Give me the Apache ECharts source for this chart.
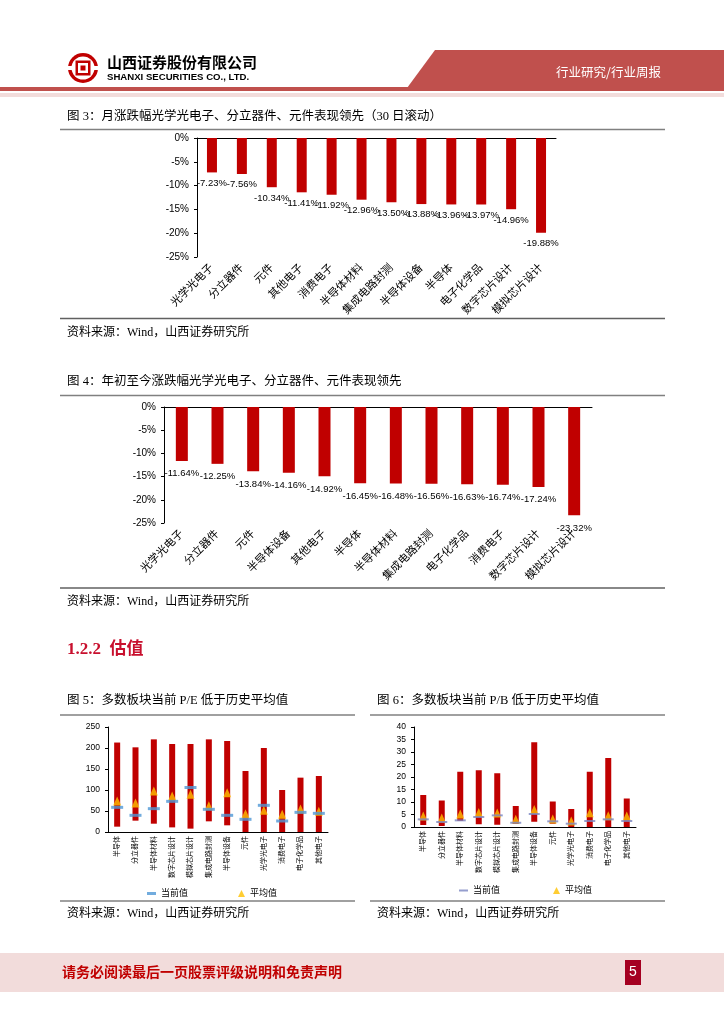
<!DOCTYPE html>
<html><head><meta charset="utf-8">
<script src="https://cdn.jsdelivr.net/npm/echarts@6/dist/echarts.min.js"></script>
<style>html,body{margin:0;padding:0;background:#fff}#c{width:724px;height:1024px}</style>
</head><body><div id="c"></div><script>
// ---- data ----
const monthCats = ['光学光电子','分立器件','元件','其他电子','消费电子','半导体材料','集成电路封测','半导体设备','半导体','电子化学品','数字芯片设计','模拟芯片设计'];
const monthVals = [-7.23,-7.56,-10.34,-11.41,-11.92,-12.96,-13.50,-13.88,-13.96,-13.97,-14.96,-19.88];
const ytdCats = ['光学光电子','分立器件','元件','半导体设备','其他电子','半导体','半导体材料','集成电路封测','电子化学品','消费电子','数字芯片设计','模拟芯片设计'];
const ytdVals = [-11.64,-12.25,-13.84,-14.16,-14.92,-16.45,-16.48,-16.56,-16.63,-16.74,-17.24,-23.32];
const valCats = ['半导体','分立器件','半导体材料','数字芯片设计','模拟芯片设计','集成电路封测','半导体设备','元件','光学光电子','消费电子','电子化学品','其他电子'];
const peMax = [213,201.6,220.6,209.5,209.5,220.6,216.7,145.2,200,100,129.4,133.3];
const peMin = [12.7,27,19.8,11,8,25.4,15.9,0,0,0,0,0];
const peCur = [58.7,39.7,55.6,73,106,54,39.7,30.2,63.5,26.2,46.8,44.4];
const peAvg = [74,69,97.6,85.7,89.7,62.7,93.7,43.7,51.6,42,54.8,49.2];
const pbMax = [12.8,10.6,22.1,22.7,21.5,8.4,33.9,10.2,7.2,22.1,27.6,11.4];
const pbMin = [0.8,0.4,2.4,1.1,0.9,1.2,2.1,1.3,0,0,0,0];
const pbCur = [3.06,2.0,2.66,4.0,4.65,1.7,5.2,2.26,1.33,2.4,3.06,2.4];
const pbAvg = [4.4,3.6,5.2,5.8,5.6,3.1,7.0,3.2,2.4,5.7,4.5,4.4];

const RED = '#c00000';
const SANS = 'Liberation Sans, Arial, Noto Sans CJK SC';
const SERIF = 'Liberation Serif, Noto Sans CJK SC';
const BLACK = '#000';

function pctAxes(grid, cats, labelSize) {
  return [
    {type:'category', gridIndex:grid, data:cats, position:'bottom',
     axisLine:{show:false,onZero:false}, axisTick:{show:false},
     axisLabel:{rotate:45, fontSize:labelSize, margin:9, color:BLACK, interval:0, fontFamily:SANS}},
    {type:'category', gridIndex:grid, data:cats, position:'top',
     axisLine:{lineStyle:{color:BLACK,width:1}}, axisTick:{length:4, lineStyle:{color:BLACK}},
     axisLabel:{show:false}}
  ];
}
function pctY(grid) {
  return {type:'value', gridIndex:grid, min:-25, max:0, interval:5,
    axisLine:{show:true, lineStyle:{color:BLACK}}, axisTick:{show:true,length:3,lineStyle:{color:BLACK}},
    splitLine:{show:false},
    axisLabel:{formatter:'{value}%', fontSize:10, color:BLACK, fontFamily:SANS}};
}
function valX(grid) {
  return {type:'category', gridIndex:grid, data:valCats,
    axisLine:{lineStyle:{color:BLACK}}, axisTick:{length:3, lineStyle:{color:BLACK}},
    axisLabel:{rotate:90, fontSize:7, margin:4, color:BLACK, interval:0, fontFamily:SANS}};
}
function valY(grid, max, interval) {
  return {type:'value', gridIndex:grid, min:0, max:max, interval:interval,
    axisLine:{show:true, lineStyle:{color:BLACK}}, axisTick:{show:true,length:3,lineStyle:{color:BLACK}},
    splitLine:{show:false},
    axisLabel:{fontSize:8.5, color:BLACK, margin:8, fontFamily:SANS}};
}
function pctBar(x, y, vals, w, dist) {
  return {type:'bar', xAxisIndex:x, yAxisIndex:y, data:vals, barWidth:w,
    itemStyle:{color:RED},
    label:{show:true, position:'outside', distance:dist, fontSize:9.5, color:BLACK, fontFamily:SANS,
      formatter:p=>p.value.toFixed(2)+'%'}};
}
function rangeSeries(x, y, mn, mx, stack, curName, avgName, curColor, curSize) {
  return [
    {type:'bar', xAxisIndex:x, yAxisIndex:y, stack:stack, data:mn, barWidth:6, silent:true,
     itemStyle:{color:'rgba(0,0,0,0)'}},
    {type:'bar', xAxisIndex:x, yAxisIndex:y, stack:stack, data:mx.map((v,i)=>+(v-mn[i]).toFixed(2)), barWidth:6,
     itemStyle:{color:RED}},
    {type:'scatter', name:avgName, xAxisIndex:x, yAxisIndex:y, symbol:'triangle', symbolSize:[8,9], z:3,
     data: (stack==='pe'?peAvg:pbAvg), itemStyle:{color:'#ffc000'}},
    {type:'scatter', name:curName, xAxisIndex:x, yAxisIndex:y, symbol:'rect', symbolSize:curSize, z:4,
     data: (stack==='pe'?peCur:pbCur), itemStyle:{color:curColor}}
  ];
}
function legendOne(name, icon, left, top, w, h) {
  return {data:[{name:name, icon:icon}], left:left, top:top, itemWidth:w, itemHeight:h, itemGap:4,
    formatter:n=>n.trim(), textStyle:{fontSize:9, color:BLACK, fontFamily:SANS}, selectedMode:false};
}
function txt(x, y, text, size, opts) {
  opts = opts || {};
  return {type:'text', x:x, y:y, silent:true, style:Object.assign({text:text, fill:BLACK, fontSize:size,
    fontFamily:SERIF, verticalAlign:'middle', align:'left'}, opts)};
}
function hline(x1, x2, y, color, w) {
  return {type:'line', silent:true, shape:{x1:x1,y1:y,x2:x2,y2:y}, style:{stroke:color, lineWidth:w}};
}
function rect(x, y, w, h, fill) {
  return {type:'rect', silent:true, shape:{x:x,y:y,width:w,height:h}, style:{fill:fill}};
}

const graphics = [
  // header
  {type:'circle', silent:true, shape:{cx:83,cy:68,r:15}, style:{fill:RED}},
  {type:'circle', silent:true, shape:{cx:83,cy:68,r:11.5}, style:{fill:'#fff'}},
  rect(67,66,5,4,'#fff'), rect(94,66,5,4,'#fff'),
  rect(75.5,60.5,15,15,RED), rect(78,63,10,10,'#fff'), rect(80.5,65.5,5,5,RED),
  txt(107,62,'山西证券股份有限公司',15,{fontFamily:'Noto Sans CJK SC', fontWeight:'bold'}),
  txt(107,77.5,'SHANXI SECURITIES CO., LTD.',9.6,{fontFamily:SANS, fontWeight:'bold'}),
  {type:'polygon', silent:true, shape:{points:[[435,50],[724,50],[724,88],[407,88]]}, style:{fill:'#c0504d'}},
  rect(0,87,724,4,'#c0504d'),
  rect(0,93,724,4,'#f2dcdb'),
  txt(556,72,'行业研究/行业周报',12.5,{fill:'#fff', fontFamily:'Noto Sans CJK SC'}),
  // figure 3
  txt(67,117,'图 3：月涨跌幅光学光电子、分立器件、元件表现领先（30 日滚动）',12.5),
  hline(60,665,129.5,'#808080',1.5),
  hline(60,665,318.5,'#606060',1.5),
  txt(67,333,'资料来源：Wind，山西证券研究所',12),
  // figure 4
  txt(67,382,'图 4：年初至今涨跌幅光学光电子、分立器件、元件表现领先',12.5),
  hline(60,665,395.5,'#808080',1.5),
  hline(60,665,588,'#606060',1.5),
  txt(67,602,'资料来源：Wind，山西证券研究所',12),
  // section
  txt(67,650,'1.2.2  估值',17,{fill:'#c8102e', fontWeight:'bold'}),
  // figure 5 / 6
  txt(67,701,'图 5：多数板块当前 P/E 低于历史平均值',12.5),
  txt(377,701,'图 6：多数板块当前 P/B 低于历史平均值',12.5),
  hline(60,355,715,'#808080',1.5),
  hline(370,665,715,'#808080',1.5),
  hline(60,355,901,'#808080',1.5),
  hline(370,665,901,'#808080',1.5),
  txt(67,914,'资料来源：Wind，山西证券研究所',12),
  txt(377,914,'资料来源：Wind，山西证券研究所',12),
  // footer
  rect(0,953,724,39,'#f2dcdb'),
  txt(62,972,'请务必阅读最后一页股票评级说明和免责声明',14,{fill:RED, fontFamily:'Noto Sans CJK SC', fontWeight:'bold'}),
  rect(625,960,16,25,'#a50021'),
  txt(633,972.5,'5',14,{fill:'#fff', fontFamily:SANS, align:'center'})
];

const option = {
  backgroundColor:'#fff',
  animation:false,
  textStyle:{fontFamily:SANS},
  grid:[
    {left:197, top:138, width:359, height:119},
    {left:164, top:407, width:428, height:116},
    {left:108, top:727, width:220, height:105},
    {left:414, top:727, width:222, height:100}
  ],
  xAxis:[...pctAxes(0, monthCats, 11), ...pctAxes(1, ytdCats, 11), valX(2), valX(3)],
  yAxis:[pctY(0), pctY(1), valY(2,250,50), valY(3,40,5)],
  legend:[
    legendOne('当前值','rect',142,884,9,3),
    legendOne('平均值','triangle',233,884,7,7),
    legendOne('当前值 ','rect',454,881,9,2),
    legendOne('平均值 ','triangle',548,881,7,7)
  ],
  series:[
    pctBar(0,0,monthVals,10,6),
    pctBar(2,1,ytdVals,12,8),
    ...rangeSeries(4,2,peMin,peMax,'pe','当前值','平均值','#4f97d6',[12,3]),
    ...rangeSeries(5,3,pbMin,pbMax,'pb','当前值 ','平均值 ','#7b86c2',[11,2])
  ],
  graphic:{elements:graphics}
};
const chart = echarts.init(document.getElementById('c'), null, {renderer:'canvas'});
chart.setOption(option);
</script></body></html>
